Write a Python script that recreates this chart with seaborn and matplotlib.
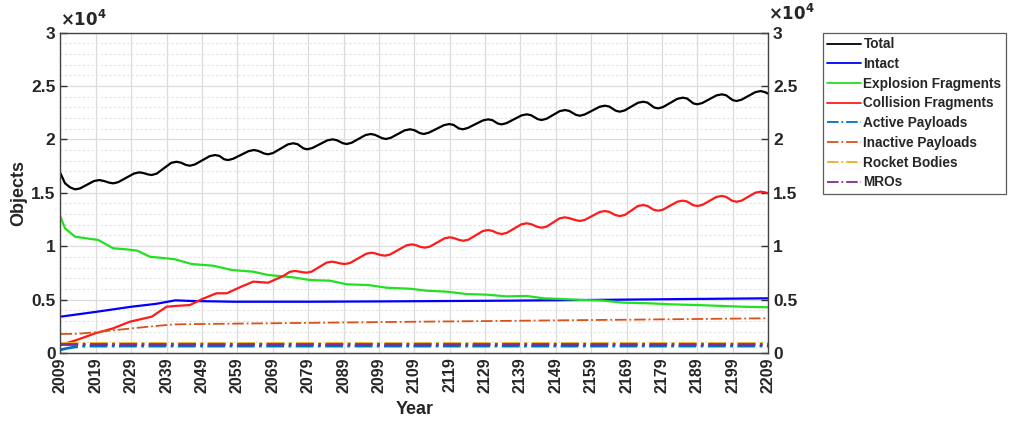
import numpy as np
import pandas as pd
import matplotlib
matplotlib.use("Agg")
import matplotlib.pyplot as plt
from matplotlib.ticker import FuncFormatter, MultipleLocator
import seaborn as sns

# ---------------- data ----------------
total_years = [2009, 2010.3, 2011.7, 2013.1, 2014.5,
               2018.5, 2020.0, 2021.3, 2022.7, 2023.9, 2025.3,
               2029.8, 2031.3, 2032.5, 2033.7, 2034.8, 2036.2,
               2040.3, 2041.8, 2043.0, 2044.5, 2045.6, 2047.0,
               2051.2, 2052.7, 2053.9, 2055.3, 2056.4, 2057.8,
               2062.2, 2063.7, 2064.9, 2066.6, 2067.7, 2069.1,
               2073.3, 2074.8, 2076.0, 2077.7, 2078.8, 2080.2,
               2084.4, 2085.9, 2087.1, 2088.8, 2089.9, 2091.3,
               2095.2, 2096.7, 2097.9, 2099.9, 2101.0, 2102.4,
               2106.3, 2107.8, 2109.0, 2110.6, 2111.7, 2113.1,
               2117.4, 2118.9, 2120.1, 2121.6, 2122.7, 2124.1,
               2128.4, 2129.9, 2131.1, 2132.6, 2133.7, 2135.1,
               2139.3, 2140.8, 2142.0, 2143.9, 2145.0, 2146.4,
               2150.1, 2151.6, 2152.8, 2154.7, 2155.8, 2157.2,
               2161.4, 2162.9, 2164.1, 2166.0, 2167.1, 2168.5,
               2172.2, 2173.7, 2174.9, 2176.8, 2177.9, 2179.3,
               2183.4, 2184.9, 2186.1, 2187.9, 2189.0, 2190.4,
               2194.4, 2195.9, 2197.1, 2199.0, 2200.1, 2201.5,
               2205.4, 2206.9, 2208.1, 2209]
total_vals = [16820, 15880, 15510, 15320, 15400,
              16100, 16190, 16100, 15950, 15880, 15990,
              16800, 16910, 16840, 16720, 16660, 16790,
              17800, 17900, 17820, 17600, 17530, 17650,
              18430, 18530, 18450, 18130, 18060, 18180,
              18900, 19000, 18920, 18670, 18600, 18720,
              19530, 19630, 19550, 19150, 19070, 19190,
              19900, 20000, 19920, 19640, 19560, 19680,
              20400, 20500, 20420, 20110, 20030, 20150,
              20840, 20940, 20860, 20580, 20500, 20620,
              21330, 21430, 21350, 21020, 20940, 21060,
              21770, 21870, 21790, 21480, 21400, 21520,
              22240, 22340, 22260, 21890, 21810, 21930,
              22640, 22740, 22660, 22290, 22210, 22330,
              23050, 23150, 23070, 22670, 22590, 22710,
              23420, 23520, 23440, 22980, 22900, 23020,
              23800, 23900, 23820, 23360, 23280, 23400,
              24110, 24210, 24130, 23670, 23590, 23710,
              24420, 24520, 24420, 24280]

intact_years = [2009, 2019, 2029, 2036, 2041.5, 2046, 2058, 2080, 2100, 2136, 2160, 2185, 2209]
intact_vals = [3400, 3850, 4330, 4600, 4930, 4870, 4800, 4800, 4830, 4900, 4970, 5050, 5120]

expl_years = [2009, 2010.3, 2013.1, 2016.4, 2019.7, 2023.9, 2027.7, 2030.7, 2034.3, 2038.1,
              2041.4, 2046.1, 2052.2, 2057.4, 2063.5, 2067.7, 2074.8, 2079.5, 2085.2, 2089.9,
              2096.0, 2101.2, 2107.8, 2112.5, 2118.2, 2123.8, 2129.5, 2135.1, 2140.8, 2145.5,
              2151.1, 2156.8, 2162.4, 2168.1, 2175.6, 2181.3, 2188.8, 2196.3, 2202.0, 2209]
expl_vals = [12760, 11670, 10890, 10730, 10580, 9800, 9700, 9580, 9010, 8890,
             8770, 8330, 8170, 7770, 7610, 7300, 7080, 6830, 6770, 6430,
             6360, 6110, 6020, 5830, 5740, 5520, 5460, 5300, 5340, 5120,
             5050, 4960, 4900, 4710, 4650, 4560, 4490, 4400, 4330, 4280]

coll_years = [2009, 2013.6, 2018.8, 2023.9, 2028.6, 2031.5, 2034.8, 2039.0, 2041.4, 2045.6,
              2048.9, 2053.1, 2056.0, 2059.7, 2063.5, 2067.7, 2072.0,
              2073.8, 2075.3, 2076.5, 2077.4, 2078.6, 2080.0,
              2084.2, 2085.7, 2086.9, 2088.2, 2089.4, 2090.8,
              2095.5, 2097.0, 2098.2, 2099.5, 2100.7, 2102.1,
              2106.8, 2108.3, 2109.5, 2110.8, 2112.0, 2113.4,
              2117.6, 2119.1, 2120.3, 2121.7, 2122.9, 2124.3,
              2128.4, 2129.9, 2131.1, 2132.5, 2133.7, 2135.1,
              2139.3, 2140.8, 2142.0, 2143.8, 2145.0, 2146.4,
              2150.1, 2151.6, 2152.8, 2154.6, 2155.8, 2157.2,
              2161.4, 2162.9, 2164.1, 2165.9, 2167.1, 2168.5,
              2172.2, 2173.7, 2174.9, 2176.7, 2177.9, 2179.3,
              2183.4, 2184.9, 2186.1, 2187.8, 2189.0, 2190.4,
              2194.4, 2195.9, 2197.1, 2198.9, 2200.1, 2201.5,
              2205.4, 2206.9, 2208.1, 2209]
coll_vals = [750, 1220, 1840, 2310, 2930, 3150, 3400, 4330, 4400, 4490,
             5030, 5590, 5590, 6150, 6680, 6580, 7210,
             7600, 7680, 7620, 7560, 7520, 7620,
             8460, 8550, 8480, 8380, 8330, 8420,
             9300, 9390, 9300, 9170, 9110, 9210,
             10080, 10170, 10090, 9930, 9860, 9960,
             10740, 10830, 10750, 10580, 10510, 10610,
             11420, 11510, 11430, 11220, 11140, 11240,
             12050, 12140, 12060, 11810, 11730, 11830,
             12610, 12700, 12620, 12440, 12360, 12460,
             13200, 13290, 13210, 12900, 12820, 12920,
             13760, 13850, 13770, 13400, 13320, 13420,
             14170, 14260, 14180, 13840, 13760, 13860,
             14610, 14700, 14620, 14240, 14160, 14260,
             15010, 15100, 15040, 14960]

active_years = [2009, 2011, 2013, 2016, 2060, 2110, 2160, 2209]
active_vals = [300, 450, 560, 650, 650, 650, 650, 650]

inact_years = [2009, 2014, 2019, 2029, 2035, 2041, 2050, 2070, 2090, 2110, 2130, 2150, 2170, 2190, 2209]
inact_vals = [1780, 1800, 1950, 2300, 2500, 2680, 2720, 2790, 2860, 2930, 2990, 3060, 3120, 3190, 3250]

rb_years = [2009, 2060, 2110, 2160, 2209]
rb_vals = [980, 980, 980, 980, 980]

mro_years = [2009, 2060, 2110, 2160, 2209]
mro_vals = [820, 820, 820, 820, 820]

labels = ["Total", "Intact", "Explosion Fragments", "Collision Fragments",
          "Active Payloads", "Inactive Payloads", "Rocket Bodies", "MROs"]
xticks = list(range(2009, 2210, 10))

# ---------------- style ----------------
sns.set_theme(style="white")
plt.rcParams["font.family"] = ["Liberation Sans", "DejaVu Sans"]
plt.rcParams["font.weight"] = "bold"

fig = plt.figure(figsize=(10.16, 4.21), dpi=100)
ax = fig.add_axes([0.0595, 0.1615, 0.6965, 0.7613])

series = [
    (total_years, total_vals, "#000000", "-", 1.6),
    (intact_years, intact_vals, "#0000FF", "-", 1.6),
    (expl_years, expl_vals, "#22E022", "-", 1.6),
    (coll_years, coll_vals, "#FF1A1A", "-", 1.6),
    (active_years, active_vals, "#0072BD", "-.", 2.0),
    (inact_years, inact_vals, "#D95319", "-.", 1.3),
    (rb_years, rb_vals, "#EDB120", "-.", 2.0),
    (mro_years, mro_vals, "#7E2F8E", "-.", 2.0),
]

for (xs, ys, col, ls, lw), lab in zip(series, labels):
    df = pd.DataFrame({"Year": xs, "Objects": ys})
    sns.lineplot(data=df, x="Year", y="Objects", ax=ax, color=col, linestyle=ls,
                 linewidth=lw, label=lab, legend=False)

ax.set_xlim(2009, 2209)
ax.set_ylim(0, 30000)
ax.set_xticks(xticks)
ax.set_xticklabels([str(t) for t in xticks], rotation=90, fontsize=11.5, fontweight="bold")
ax.yaxis.set_major_locator(MultipleLocator(5000))
ax.yaxis.set_minor_locator(MultipleLocator(1000))
ax.yaxis.set_major_formatter(FuncFormatter(lambda v, p: "{:g}".format(v / 1e4)))
ax.tick_params(axis="y", which="major", labelsize=12.5, direction="in", length=5,
               right=True, labelright=True, left=True, labelleft=True, width=1, color="#333333")
ax.tick_params(axis="y", which="minor", length=0)
ax.tick_params(axis="x", which="major", direction="in", length=5, top=False, width=1,
               color="#333333", pad=3)
for lab in ax.get_yticklabels():
    lab.set_fontweight("bold")

ax.grid(True, which="major", color="#DCDCDC", linewidth=0.9, linestyle="-")
ax.grid(True, which="minor", axis="y", color="#E2E2E2", linewidth=0.8, linestyle=(0, (2, 2)))
ax.set_axisbelow(True)
for sp in ax.spines.values():
    sp.set_color("#444444")
    sp.set_linewidth(1.0)

ax.set_xlabel("Year", fontsize=13, fontweight="bold", labelpad=6)
ax.set_ylabel("Objects", fontsize=13, fontweight="bold", labelpad=3)

ax.text(0.0, 1.012, r"$\times10^{4}$", transform=ax.transAxes, fontsize=12,
        ha="left", va="bottom")
ax.text(1.0, 1.03, r"$\times10^{4}$", transform=ax.transAxes, fontsize=12,
        ha="left", va="bottom")

handles, labs = ax.get_legend_handles_labels()
leg = ax.legend(handles, labs, loc="upper left", bbox_to_anchor=(1.077, 1.0),
                frameon=True, fancybox=False, edgecolor="#333333",
                prop={"weight": "bold", "size": 9.8}, handlelength=2.5,
                handletextpad=0.15, labelspacing=0.42, borderpad=0.35, borderaxespad=0)
leg.get_frame().set_linewidth(0.9)
for h in leg.get_lines():
    h.set_linewidth(1.3)

fig.savefig("out.png", dpi=100)
